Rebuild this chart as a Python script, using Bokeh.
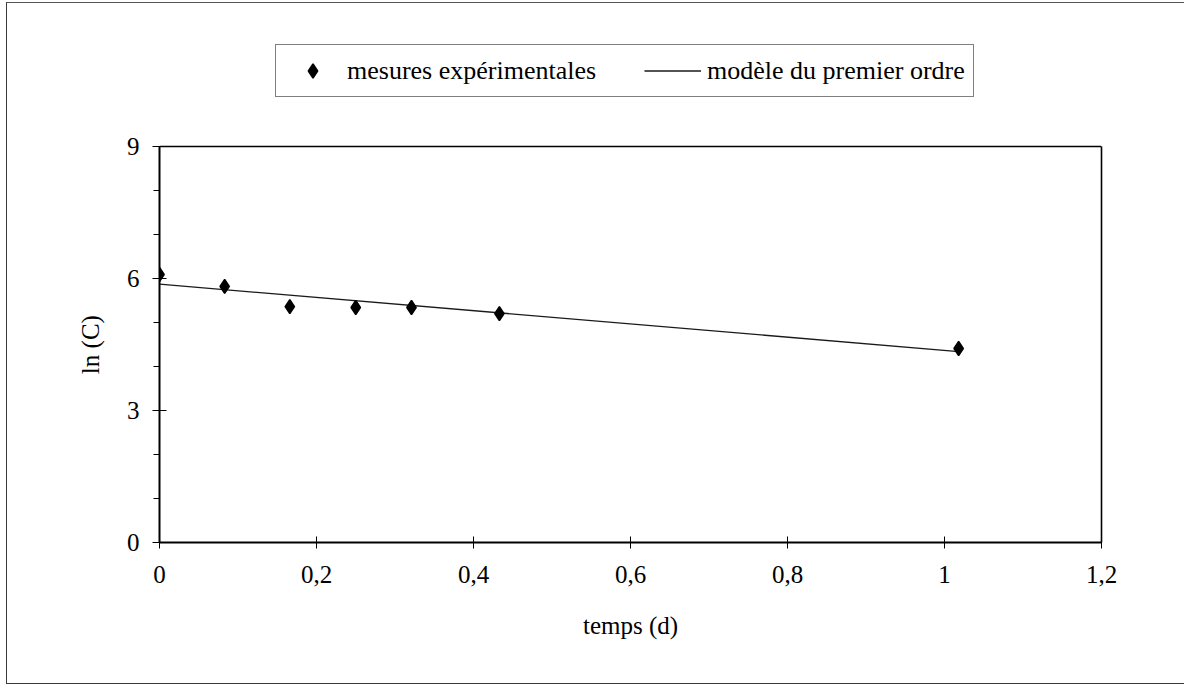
from bokeh.embed import file_html
from bokeh.models import (CustomJSTickFormatter, FixedTicker, InlineStyleSheet,
                          Legend, LegendItem, LinearAxis, Range1d, Span)
from bokeh.plotting import figure
from bokeh.resources import INLINE

# Measured concentrations (log scale) versus time in days
temps = [0, 0.083, 0.166, 0.25, 0.321, 0.433, 1.018]
ln_c = [6.09, 5.82, 5.36, 5.34, 5.34, 5.20, 4.41]

# First-order model evaluated at the ends of the time span
temps_modele = [0, 1.018]
ln_c_modele = [5.87, 4.34]

x_ticks = [0, 0.2, 0.4, 0.6, 0.8, 1.0, 1.2]
y_ticks = [0, 3, 6, 9]
y_minor = [1, 2, 4, 5, 7, 8]
Y_MAX = 9

FONT = "Liberation Serif"

# Layout (pixels): the plotting frame reaches up to hold the legend box,
# while the drawn axes box stops at Y_MAX.
W, H = 1184, 686
LEFT, RIGHT, TOP, BOTTOM = 159, 83, 40, 144
BOX_H = 396                      # height of the axes box from 0 to Y_MAX
frame_h = H - TOP - BOTTOM
y_end = Y_MAX * frame_h / BOX_H

page_css = InlineStyleSheet(css="""
:host { position: relative; }
:host::after {
  content: ""; position: absolute; pointer-events: none; z-index: 100;
  left: 6px; top: 2px; right: 0; bottom: 2px;
  border-left: 1.5px solid #3a3a3a; border-top: 1.5px solid #555;
  border-bottom: 1.5px solid #3a3a3a;
}
""")

p = figure(
    width=W, height=H,
    min_border_left=LEFT, min_border_right=RIGHT,
    min_border_top=TOP, min_border_bottom=BOTTOM,
    x_range=Range1d(0, 1.2), y_range=Range1d(0, y_end),
    output_backend="svg", toolbar_location=None,
    background_fill_color="white", border_fill_color="white",
    stylesheets=[page_css],
)
p.grid.visible = False
p.outline_line_color = None

line_r = p.line(temps_modele, ln_c_modele, line_color="#1a1a1a", line_width=1.3)
pts_r = p.scatter(temps, ln_c, marker="diamond", size=14,
                  fill_color="black", line_color="black", line_width=1.5)

# x axis: ticks crossing the axis, decimal comma
xa = p.xaxis[0]
xa.ticker = FixedTicker(ticks=x_ticks, minor_ticks=[])
xa.formatter = CustomJSTickFormatter(
    code="return tick.toFixed(1).replace('.', ',').replace(',0', '');")
xa.axis_label = "temps (d)"
xa.major_tick_in = 6
xa.major_tick_out = 6
xa.minor_tick_in = 0
xa.minor_tick_out = 0
xa.major_label_standoff = 17
xa.axis_label_standoff = 26

# y axis: major ticks crossing, minor ticks outside, line stops at Y_MAX.
# The label is padded with trailing no-break spaces so that it sits centred
# on the 0..Y_MAX box rather than on the taller frame.
ya = p.yaxis[0]
ya.bounds = (0, Y_MAX)
ya.ticker = FixedTicker(ticks=y_ticks, minor_ticks=y_minor)
ya.axis_label = "ln (C)" + "\u00a0" * 17
ya.major_tick_in = 7
ya.major_tick_out = 7
ya.minor_tick_in = 0
ya.minor_tick_out = 6
ya.major_label_standoff = 13
ya.axis_label_standoff = 20

for ax in (xa, ya):
    ax.axis_line_width = 2
    ax.axis_line_color = "black"
    ax.major_tick_line_color = "black"
    ax.minor_tick_line_color = "black"
    ax.major_label_text_font = FONT
    ax.major_label_text_font_size = "25px"
    ax.major_label_text_color = "black"
    ax.axis_label_text_font = FONT
    ax.axis_label_text_font_size = "25px"
    ax.axis_label_text_font_style = "normal"
    ax.axis_label_text_color = "black"

# right and top edges of the axes box
right_edge = LinearAxis(bounds=(0, Y_MAX), ticker=FixedTicker(ticks=[]),
                        axis_line_width=1.6, axis_line_color="black",
                        major_tick_line_color=None, minor_tick_line_color=None,
                        major_label_text_font_size="0px")
p.add_layout(right_edge, "right")
p.add_layout(Span(location=Y_MAX, dimension="width",
                  line_color="black", line_width=1.6))

legend = Legend(
    items=[LegendItem(label="mesures expérimentales", renderers=[pts_r]),
           LegendItem(label="modèle du premier ordre", renderers=[line_r])],
    orientation="horizontal", location=(116, 445),
    glyph_width=57, glyph_height=35, label_standoff=6, spacing=48, padding=8,
    margin=0,
    border_line_color="black", border_line_width=1.3,
    background_fill_color="white", background_fill_alpha=1,
    label_text_font=FONT, label_text_font_size="26px", label_text_color="black",
)
p.add_layout(legend, "center")

open("out.html", "w").write(file_html(p, INLINE))
